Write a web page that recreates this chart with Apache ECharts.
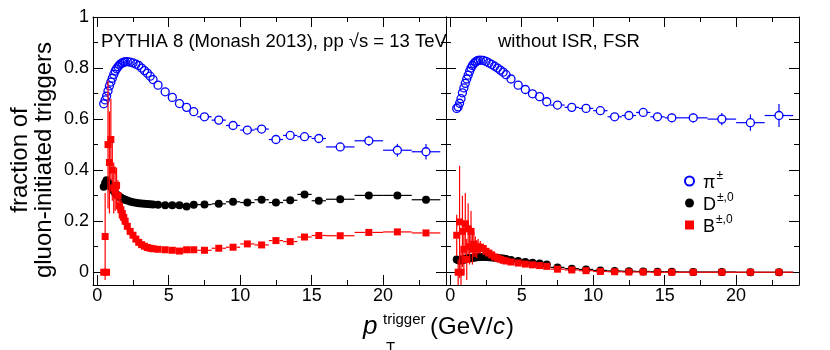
<!DOCTYPE html>
<html>
<head>
<meta charset="utf-8">
<script src="https://cdn.jsdelivr.net/npm/echarts@6/dist/echarts.min.js"></script>
<style>
  html, body { margin: 0; padding: 0; background: #fff; }
  #main { width: 830px; height: 350px; }
</style>
</head>
<body>
<div id="main"></div>
<script>
// trigger pT bin centres and half widths (GeV/c)
const pt = [0.45, 0.55, 0.65, 0.75, 0.85, 0.95, 1.05, 1.15, 1.25, 1.35, 1.45, 1.55, 1.65, 1.75, 1.85, 1.95,
  2.1, 2.3, 2.5, 2.7, 2.9, 3.1, 3.3, 3.5, 3.7, 3.9,
  4.25, 4.75, 5.25, 5.75, 6.25, 6.75,
  7.5, 8.5, 9.5, 10.5, 11.5, 12.5, 13.5, 14.5, 15.5,
  17, 19, 21, 23];
const ptHalf = [0.05, 0.05, 0.05, 0.05, 0.05, 0.05, 0.05, 0.05, 0.05, 0.05, 0.05, 0.05, 0.05, 0.05, 0.05, 0.05,
  0.1, 0.1, 0.1, 0.1, 0.1, 0.1, 0.1, 0.1, 0.1, 0.1,
  0.25, 0.25, 0.25, 0.25, 0.25, 0.25,
  0.5, 0.5, 0.5, 0.5, 0.5, 0.5, 0.5, 0.5, 0.5,
  1, 1, 1, 1];

// left panel: default PYTHIA
const piLeft = [0.66, 0.675, 0.69, 0.71, 0.73, 0.745, 0.76, 0.775, 0.788, 0.797, 0.805, 0.812, 0.817, 0.82, 0.823, 0.824,
  0.825, 0.823, 0.82, 0.815, 0.81, 0.80, 0.79, 0.78, 0.768, 0.755,
  0.733, 0.707, 0.685, 0.661, 0.646, 0.629,
  0.609, 0.596, 0.575, 0.557, 0.561, 0.52, 0.536, 0.531, 0.524,
  0.491, 0.515, 0.478, 0.472];
const piLeftErr = [0.003, 0.003, 0.003, 0.003, 0.003, 0.003, 0.003, 0.003, 0.003, 0.003, 0.003, 0.003, 0.003, 0.003, 0.003, 0.003,
  0.003, 0.003, 0.003, 0.003, 0.003, 0.003, 0.003, 0.003, 0.003, 0.003,
  0.004, 0.004, 0.004, 0.004, 0.004, 0.004,
  0.006, 0.007, 0.008, 0.009, 0.01, 0.011, 0.012, 0.013, 0.015,
  0.015, 0.02, 0.025, 0.03];
const dLeft = [0.335, 0.35, 0.36, 0.355, 0.345, 0.335, 0.325, 0.318, 0.31, 0.305, 0.30, 0.296, 0.292, 0.289, 0.286, 0.284,
  0.281, 0.277, 0.274, 0.272, 0.27, 0.269, 0.268, 0.267, 0.266, 0.265,
  0.264, 0.262, 0.262, 0.262, 0.258, 0.264,
  0.265, 0.268, 0.276, 0.273, 0.284, 0.273, 0.282, 0.305, 0.28,
  0.286, 0.301, 0.301, 0.284];
const dLeftErr = [0.012, 0.012, 0.011, 0.01, 0.009, 0.008, 0.007, 0.006, 0.006, 0.005, 0.005, 0.004, 0.004, 0.004, 0.004, 0.004,
  0.003, 0.003, 0.003, 0.003, 0.003, 0.003, 0.003, 0.003, 0.003, 0.003,
  0.003, 0.003, 0.003, 0.003, 0.003, 0.003,
  0.005, 0.006, 0.006, 0.007, 0.007, 0.008, 0.009, 0.01, 0.01,
  0.008, 0.009, 0.01, 0.012];
const bLeft = [0, 0.14, 0, 0.50, 0.43, 0.52, 0.40, 0.33, 0.32, 0.34, 0.30, 0.26, 0.245, 0.23, 0.215, 0.20,
  0.18, 0.16, 0.145, 0.13, 0.117, 0.108, 0.102, 0.097, 0.094, 0.092,
  0.09, 0.088, 0.086, 0.083, 0.088, 0.088,
  0.086, 0.094, 0.098, 0.111, 0.107, 0.124, 0.12, 0.138, 0.144,
  0.143, 0.156, 0.158, 0.154];
const bLeftErr = [0, 0.17, 0, 0.25, 0.2, 0.16, 0.12, 0.1, 0.08, 0.07, 0.06, 0.05, 0.04, 0.035, 0.03, 0.025,
  0.02, 0.015, 0.012, 0.01, 0.008, 0.007, 0.006, 0.005, 0.005, 0.005,
  0.004, 0.004, 0.004, 0.004, 0.004, 0.004,
  0.005, 0.005, 0.005, 0.005, 0.005, 0.005, 0.005, 0.005, 0.005,
  0.006, 0.006, 0.006, 0.006];

// right panel: without ISR, FSR
const piRight = [0.642, 0.648, 0.662, 0.68, 0.703, 0.722, 0.74, 0.757, 0.772, 0.787, 0.80, 0.81, 0.818, 0.823, 0.827, 0.83,
  0.831, 0.83, 0.826, 0.82, 0.814, 0.807, 0.80, 0.792, 0.784, 0.774,
  0.757, 0.733, 0.716, 0.699, 0.688, 0.668,
  0.655, 0.646, 0.642, 0.633, 0.609, 0.614, 0.626, 0.609, 0.605,
  0.605, 0.60, 0.586, 0.614];
const piRightErr = [0.003, 0.003, 0.003, 0.003, 0.003, 0.003, 0.003, 0.003, 0.003, 0.003, 0.003, 0.003, 0.003, 0.003, 0.003, 0.003,
  0.003, 0.003, 0.003, 0.003, 0.003, 0.003, 0.003, 0.003, 0.003, 0.003,
  0.004, 0.004, 0.004, 0.004, 0.004, 0.004,
  0.006, 0.007, 0.008, 0.01, 0.011, 0.012, 0.014, 0.016, 0.017,
  0.018, 0.024, 0.032, 0.045];
const dRight = [0.05, 0.048, 0.045, 0.05, 0.047, 0.052, 0.05, 0.055, 0.053, 0.056, 0.055, 0.057, 0.058, 0.058, 0.059, 0.06,
  0.06, 0.06, 0.06, 0.059, 0.058, 0.057, 0.056, 0.055, 0.054, 0.052,
  0.048, 0.044, 0.04, 0.037, 0.034, 0.03,
  0.019, 0.014, 0.011, 0.007, 0.005, 0.004, 0.003, 0.002, 0.002,
  0.001, 0.001, 0, 0];
const dRightErr = [0.008, 0.008, 0.007, 0.007, 0.006, 0.006, 0.005, 0.005, 0.004, 0.004, 0.004, 0.003, 0.003, 0.003, 0.003, 0.003,
  0.003, 0.003, 0.003, 0.003, 0.003, 0.003, 0.003, 0.003, 0.003, 0.003,
  0.002, 0.002, 0.002, 0.002, 0.002, 0.002,
  0.002, 0.002, 0.002, 0.002, 0.002, 0.002, 0.002, 0.002, 0.002,
  0.001, 0.001, 0.001, 0.001];
const bRight = [0.145, 0, 0.197, 0, 0.16, 0.09, 0.19, 0.05, 0.17, 0.10, 0.16, 0.09, 0.11, 0.10, 0.09, 0.10,
  0.097, 0.093, 0.082, 0.075, 0.068, 0.06, 0.055, 0.051, 0.047, 0.044,
  0.04, 0.036, 0.032, 0.029, 0.026, 0.023,
  0.012, 0.009, 0.006, 0.003, 0.002, 0.001, 0.001, 0, 0,
  0, 0, 0, 0];
const bRightErr = [0.08, 0.05, 0.22, 0.08, 0.14, 0.1, 0.12, 0.08, 0.1, 0.07, 0.08, 0.06, 0.05, 0.04, 0.035, 0.03,
  0.025, 0.02, 0.018, 0.015, 0.012, 0.01, 0.009, 0.008, 0.007, 0.006,
  0.005, 0.005, 0.005, 0.005, 0.005, 0.005,
  0.003, 0.003, 0.003, 0.003, 0.003, 0.003, 0.003, 0.003, 0.003,
  0.002, 0.002, 0.002, 0.002];

const FONT = '"Liberation Sans", Arial, Helvetica, sans-serif';
const BLUE = '#0000ff', RED = '#ff0000', BLACK = '#000000';

const chartDom = document.getElementById('main');
const myChart = echarts.init(chartDom, null, { renderer: 'canvas' });

function rows(vals, errs) {
  return pt.map((x, i) => [x, vals[i], ptHalf[i], errs[i]]);
}

// ROOT-like error bars, with a gap around the marker
function errorBars(params, api) {
  const x = api.value(0), y = api.value(1), xe = api.value(2), ye = api.value(3);
  const c = api.coord([x, y]);
  const l = api.coord([x - xe, y]);
  const r = api.coord([x + xe, y]);
  const t = api.coord([x, y + ye]);
  const b = api.coord([x, y - ye]);
  const gap = 3.5;
  const st = api.style({ stroke: api.visual('color'), lineWidth: 1.2, fill: null });
  const kids = [];
  if (l[0] < c[0] - gap) kids.push({ type: 'line', shape: { x1: l[0], y1: c[1], x2: c[0] - gap, y2: c[1] }, style: st });
  if (r[0] > c[0] + gap) kids.push({ type: 'line', shape: { x1: c[0] + gap, y1: c[1], x2: r[0], y2: c[1] }, style: st });
  if (t[1] < c[1] - gap) kids.push({ type: 'line', shape: { x1: c[0], y1: t[1], x2: c[0], y2: c[1] - gap }, style: st });
  if (b[1] > c[1] + gap) kids.push({ type: 'line', shape: { x1: c[0], y1: c[1] + gap, x2: c[0], y2: b[1] }, style: st });
  return { type: 'group', children: kids };
}

function xAx(gi, pos, labels) {
  return {
    type: 'value', gridIndex: gi, position: pos, min: -0.3, max: 24.4, splitNumber: 5,
    axisLine: { show: true, onZero: false, lineStyle: { color: BLACK, width: 1 } },
    axisTick: { show: true, inside: true, length: 10, lineStyle: { color: BLACK } },
    minorTick: { show: true, splitNumber: 2, length: 5, lineStyle: { color: BLACK } },
    splitLine: { show: false },
    axisLabel: {
      show: labels, color: BLACK, fontSize: 18, fontFamily: FONT, margin: 2,
      formatter: v => (v > -0.01 && Math.abs(v / 5 - Math.round(v / 5)) < 1e-6) ? String(Math.round(v)) : ''
    }
  };
}
function yAx(gi, pos, labels) {
  return {
    type: 'value', gridIndex: gi, position: pos, min: -0.05, max: 1, splitNumber: 5,
    axisLine: { show: true, onZero: false, lineStyle: { color: BLACK, width: 1 } },
    axisTick: { show: true, inside: true, length: 10, lineStyle: { color: BLACK } },
    minorTick: { show: true, splitNumber: 2, length: 5, lineStyle: { color: BLACK } },
    splitLine: { show: false },
    axisLabel: {
      show: labels, color: BLACK, fontSize: 18, fontFamily: FONT, margin: 4,
      formatter: v => (v > -0.01 && Math.abs(v * 5 - Math.round(v * 5)) < 1e-6) ? String(Math.round(v * 10) / 10) : ''
    }
  };
}

function panel(gi, pi, piE, d, dE, b, bE) {
  const xi = gi * 2, yi = gi * 2;
  const base = { xAxisIndex: xi, yAxisIndex: yi };
  return [
    Object.assign({ type: 'custom', name: 'piErr', renderItem: errorBars, data: rows(pi, piE), encode: { x: 0, y: 1 }, clip: true, itemStyle: { color: BLUE }, z: 2 }, base),
    Object.assign({ type: 'scatter', name: 'pi', data: rows(pi, piE), symbol: 'circle', symbolSize: 8, clip: true,
      itemStyle: { color: 'rgba(255,255,255,0)', borderColor: BLUE, borderWidth: 1.3, opacity: 1 }, z: 3 }, base),
    Object.assign({ type: 'custom', name: 'dErr', renderItem: errorBars, data: rows(d, dE), encode: { x: 0, y: 1 }, clip: true, itemStyle: { color: BLACK }, z: 4 }, base),
    Object.assign({ type: 'scatter', name: 'D', data: rows(d, dE), symbol: 'circle', symbolSize: 8, clip: true,
      itemStyle: { color: BLACK, opacity: 1 }, z: 5 }, base),
    Object.assign({ type: 'custom', name: 'bErr', renderItem: errorBars, data: rows(b, bE), encode: { x: 0, y: 1 }, clip: true, itemStyle: { color: RED }, z: 6 }, base),
    Object.assign({ type: 'scatter', name: 'B', data: rows(b, bE), symbol: 'rect', symbolSize: 7, clip: true,
      itemStyle: { color: RED, opacity: 1 }, z: 7 }, base)
  ];
}

let option = {
  animation: false,
  backgroundColor: '#fff',
  grid: [
    { left: 93, top: 17, width: 353, height: 268 },
    { left: 446, top: 17, width: 353, height: 268 }
  ],
  xAxis: [xAx(0, 'bottom', true), xAx(0, 'top', false), xAx(1, 'bottom', true), xAx(1, 'top', false)],
  yAxis: [yAx(0, 'left', true), yAx(0, 'right', false), yAx(1, 'left', false), yAx(1, 'right', false)],
  legend: {
    orient: 'vertical', left: 679, top: 165, itemWidth: 9, itemHeight: 9, itemGap: 0,
    selectedMode: false,
    data: [{ name: 'pi' }, { name: 'D' }, { name: 'B' }],
    formatter: n => ({ pi: '{m|π}{s|±}', D: '{m|D}{s|±,0}', B: '{m|B}{s|±,0}' })[n],
    textStyle: {
      color: BLACK, fontFamily: FONT, fontSize: 18,
      rich: {
        m: { fontSize: 18, fontFamily: FONT, color: BLACK, lineHeight: 22, verticalAlign: 'bottom', padding: [0, 0, 0, 4] },
        s: { fontSize: 12, fontFamily: FONT, color: BLACK, lineHeight: 22, verticalAlign: 'top', padding: [0, 0, 0, 1] }
      }
    }
  },
  graphic: [
    { type: 'text', x: 101, y: 42, style: { text: 'PYTHIA 8 (Monash 2013), pp √s = 13 TeV', fontSize: 18.5, fontFamily: FONT, fill: BLACK, verticalAlign: 'middle' } },
    { type: 'text', x: 498, y: 42, style: { text: 'without ISR, FSR', fontSize: 18.5, fontFamily: FONT, fill: BLACK, verticalAlign: 'middle' } },
    { type: 'text', x: 20, y: 160, rotation: Math.PI / 2, style: { text: 'fraction of', fontSize: 24, fontFamily: FONT, fill: BLACK, align: 'center', verticalAlign: 'middle' } },
    { type: 'text', x: 44, y: 160, rotation: Math.PI / 2, style: { text: 'gluon-initiated triggers', fontSize: 24, fontFamily: FONT, fill: BLACK, align: 'center', verticalAlign: 'middle' } },
    { type: 'text', x: 363, y: 327, style: { text: 'p', fontSize: 26, fontStyle: 'italic', fontFamily: FONT, fill: BLACK, verticalAlign: 'middle' } },
    { type: 'text', x: 383, y: 320, style: { text: 'trigger', fontSize: 15, fontFamily: FONT, fill: BLACK, verticalAlign: 'middle' } },
    { type: 'text', x: 386, y: 348, style: { text: 'T', fontSize: 15, fontFamily: FONT, fill: BLACK, verticalAlign: 'middle' } },
    { type: 'text', x: 430, y: 327, style: { text: '(GeV/', fontSize: 24, fontFamily: FONT, fill: BLACK, verticalAlign: 'middle' } },
    { type: 'text', x: 493, y: 327, style: { text: 'c', fontSize: 24, fontStyle: 'italic', fontFamily: FONT, fill: BLACK, verticalAlign: 'middle' } },
    { type: 'text', x: 506, y: 327, style: { text: ')', fontSize: 24, fontFamily: FONT, fill: BLACK, verticalAlign: 'middle' } }
  ],
  series: [].concat(
    panel(0, piLeft, piLeftErr, dLeft, dLeftErr, bLeft, bLeftErr),
    panel(1, piRight, piRightErr, dRight, dRightErr, bRight, bRightErr)
  )
};

option && myChart.setOption(option);
</script>
</body>
</html>
